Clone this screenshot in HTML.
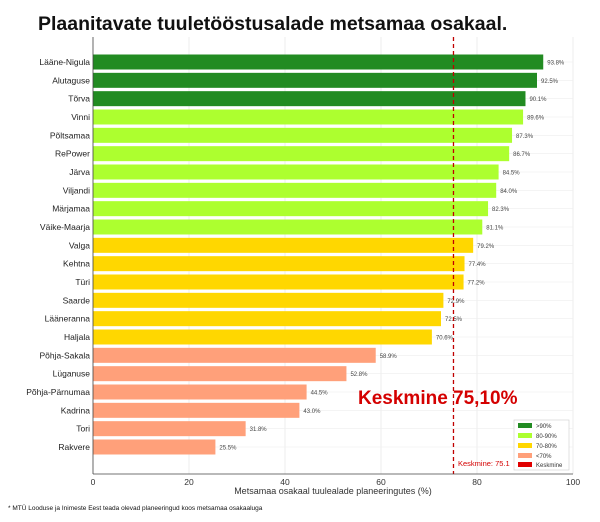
<!DOCTYPE html>
<html><head><meta charset="utf-8"><style>
body{margin:0;background:#fff;width:600px;height:517px;overflow:hidden;font-family:"Liberation Sans",sans-serif}
</style></head><body>
<svg width="600" height="517" font-family="Liberation Sans, DejaVu Sans, sans-serif">
<text x="38" y="30" font-size="19.5" font-weight="bold" fill="#111">Plaanitavate tuuletööstusalade metsamaa osakaal.</text>
<g id="grid"></g>
<g id="bars"></g>
<g id="axis"></g>
<text x="333" y="494" font-size="9" text-anchor="middle" fill="#333">Metsamaa osakaal tuulealade planeeringutes (%)</text>
<text x="358" y="404" font-size="19" font-weight="bold" fill="#d40000">Keskmine 75,10%</text>
<text x="458" y="466" font-size="7.5" fill="#d40000">Keskmine: 75.1</text>
<g>
<rect x="514" y="420" width="55" height="50" fill="#fff" stroke="#ccc" stroke-width="0.6"/>
<rect x="518" y="423" width="14" height="5" fill="#228b22"/><text x="536" y="428" font-size="6" fill="#333">&gt;90%</text>
<rect x="518" y="433" width="14" height="5" fill="#adff2f"/><text x="536" y="438" font-size="6" fill="#333">80-90%</text>
<rect x="518" y="443" width="14" height="5" fill="#ffd700"/><text x="536" y="448" font-size="6" fill="#333">70-80%</text>
<rect x="518" y="453" width="14" height="5" fill="#ffa07a"/><text x="536" y="458" font-size="6" fill="#333">&lt;70%</text>
<rect x="518" y="462" width="14" height="5" fill="#e00000"/><text x="536" y="467" font-size="6" fill="#333">Keskmine</text>
</g>
<text x="8" y="510" font-size="6.5" fill="#111">* MTÜ Looduse ja Inimeste Eest teada olevad planeeringud koos metsamaa osakaaluga</text>
</svg>
<script>
const categories=["Lääne-Nigula","Alutaguse","Tõrva","Vinni","Põltsamaa","RePower","Järva","Viljandi","Märjamaa","Väike-Maarja","Valga","Kehtna","Türi","Saarde","Lääneranna","Haljala","Põhja-Sakala","Lüganuse","Põhja-Pärnumaa","Kadrina","Tori","Rakvere"];
const values=[93.8,92.5,90.1,89.6,87.3,86.7,84.5,84.0,82.3,81.1,79.2,77.4,77.2,73.0,72.5,70.6,58.9,52.8,44.5,43.0,31.8,25.5];
const labels=["93.8%","92.5%","90.1%","89.6%","87.3%","86.7%","84.5%","84.0%","82.3%","81.1%","79.2%","77.4%","77.2%","72.9%","72.5%","70.6%","58.9%","52.8%","44.5%","43.0%","31.8%","25.5%"];
const ticks=[0,20,40,60,80,100];
const meanValue=75.1;
(function(){
const NS="http://www.w3.org/2000/svg";
const x0=93,x1=573,plotTop=37,plotBottom=474;
const xs=v=>x0+(x1-x0)*v/100;
const n=categories.length, firstC=62, lastC=447, step=(lastC-firstC)/(n-1);
const ys=i=>firstC+step*i;
function mk(t,a,p){const e=document.createElementNS(NS,t);for(const k in a)e.setAttribute(k,a[k]);p.appendChild(e);return e;}
const grid=document.getElementById('grid'),bars=document.getElementById('bars'),axis=document.getElementById('axis');
ticks.forEach(t=>{const l=mk('line',{x1:xs(t),x2:xs(t),y1:plotTop,y2:plotBottom,stroke:'#e6e6e6','stroke-width':0.7},grid);


const tk=mk('text',{x:xs(t),y:plotBottom+11,'font-size':8.5,'text-anchor':'middle',fill:'#333'},axis);tk.textContent=t;

});
categories.forEach((c,i)=>{const g=mk('line',{x1:x0,x2:x1,y1:ys(i),y2:ys(i),stroke:'#eee','stroke-width':0.6},grid);

});
function col(v){return v>=90?'#228b22':v>=80?'#adff2f':v>=70?'#ffd700':'#ffa07a';}
values.forEach((v,i)=>{const bh=15;
const r=mk('rect',{x:x0,y:ys(i)-bh/2,width:xs(v)-x0,height:bh,fill:col(v)},bars);


const t=mk('text',{x:xs(v)+4,y:ys(i)+2.5,'font-size':6,fill:'#444'},bars);t.textContent=labels[i];


const c=mk('text',{x:x0-3,y:ys(i)+3,'font-size':8.5,'text-anchor':'end',fill:'#222'},axis);c.textContent=categories[i];

});
const m=mk('line',{x1:xs(meanValue),x2:xs(meanValue),y1:plotTop,y2:plotBottom,stroke:'#c00000','stroke-width':1.3,'stroke-dasharray':'4,3'},bars);


const ax=mk('line',{x1:x0,x2:x1,y1:plotBottom,y2:plotBottom,stroke:'#444','stroke-width':0.8},axis);


const ay=mk('line',{x1:x0,x2:x0,y1:plotTop,y2:plotBottom,stroke:'#444','stroke-width':0.8},axis);


})();
</script>
</body></html>
